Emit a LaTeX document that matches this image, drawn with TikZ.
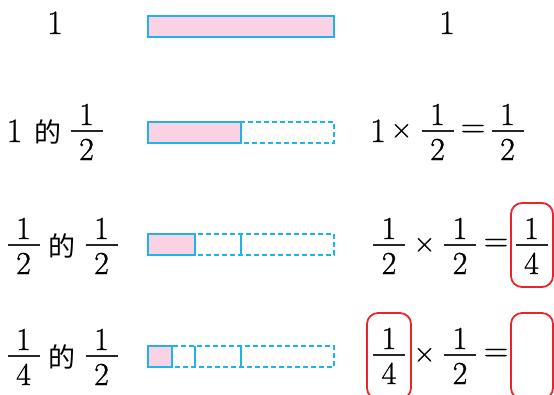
\documentclass[tikz,border=0pt]{standalone}
\usepackage{fontspec}
\newfontfamily\serif{Latin Modern Roman}[FakeBold=0.9]
\newfontfamily\serifop{Latin Modern Roman}[FakeBold=0.5]
\newfontfamily\cjk{Noto Sans CJK SC}
\definecolor{barblue}{HTML}{1EB4EA}
\definecolor{barpink}{HTML}{F9D3E3}
\definecolor{boxred}{HTML}{E8242C}
\begin{document}
\begin{tikzpicture}[x=1pt,y=-1pt,
  dig/.style={inner sep=0pt,anchor=base,font=\serif\fontsize{34}{34}\selectfont},
  fd/.style={inner sep=0pt,anchor=base,font=\serif\fontsize{32}{32}\selectfont},
  op/.style={inner sep=0pt,anchor=center,font=\serifop\fontsize{30}{30}\selectfont},
  eqs/.style={inner sep=0pt,anchor=center,font=\serifop\fontsize{34}{34}\selectfont},
  de/.style={inner sep=0pt,anchor=center,font=\cjk\fontsize{27}{27}\selectfont},
  fline/.style={line width=1.5pt,black!85},
  part/.style={draw=barblue,line width=1.4pt,fill=barpink},
  dpart/.style={draw=barblue,line width=1.4pt,dash pattern=on 5pt off 3pt},
  divl/.style={draw=barblue,line width=1.4pt},
  ans/.style={draw=boxred,line width=1.8pt,rounded corners=11pt}]
\useasboundingbox (0,0) rectangle (554,394);
\clip (0,0) rectangle (554,394);
% fraction macro: name, x-centre, bar y, numerator, denominator
\newcommand\myfr[5]{%
  \node[fd] (#1n) at (#2,#3-6) {#4};
  \node[fd] (#1d) at (#2,#3+29) {#5};
  \draw[fline] (#2-16,#3) -- (#2+16,#3);}
% ---- row 1
\node[dig] (r1l) at (55,34) {1};
\node[dig] (r1r) at (447,34) {1};
\fill[barpink] (148,16) rectangle (334,37);
\draw[divl] (148,16) rectangle (334,37);
% ---- row 2
\node[dig] (r2a) at (14.5,142) {1};
\node[de] (r2de) at (48,132) {的};
\myfr{r2f}{86.5}{131}{1}{2}
\node[dig] (r2b) at (378,142) {1};
\node[op] (r2x) at (401.5,131) {×};
\myfr{r2g}{437.5}{131}{1}{2}
\node[eqs] (r2e) at (473,131) {=};
\myfr{r2h}{507.5}{131}{1}{2}
\draw[dpart] (241,122) rectangle (334,143);
\draw[part] (148,122) rectangle (241,143);
% ---- row 3
\myfr{r3f}{23.5}{245}{1}{2}
\node[de] (r3de) at (62,246) {的};
\myfr{r3g}{101.5}{245}{1}{2}
\myfr{r3h}{389}{245}{1}{2}
\node[op] (r3x) at (424.5,245) {×};
\myfr{r3i}{460}{245}{1}{2}
\node[eqs] (r3e) at (496,245) {=};
\myfr{r3j}{531.5}{245}{1}{4}
\draw[ans] (511,203) rectangle (553,287);
\draw[dpart] (195,234) rectangle (334,255);
\draw[divl] (241,234) -- (241,255);
\draw[part] (148,234) rectangle (195,255);
% ---- row 4
\myfr{r4f}{23.5}{356}{1}{4}
\node[de] (r4de) at (62,357) {的};
\myfr{r4g}{101.5}{356}{1}{2}
\myfr{r4h}{389}{355}{1}{4}
\node[op] (r4x) at (424.5,355) {×};
\myfr{r4i}{460}{355}{1}{2}
\node[eqs] (r4e) at (496,355) {=};
\draw[ans] (367,313) rectangle (411,399);
\draw[ans] (511,313) rectangle (553,399);
\draw[dpart] (172,346) rectangle (334,367);
\draw[divl] (195,346) -- (195,367);
\draw[divl] (241,346) -- (241,367);
\draw[part] (148,346) rectangle (172,367);
\end{tikzpicture}
\end{document}
